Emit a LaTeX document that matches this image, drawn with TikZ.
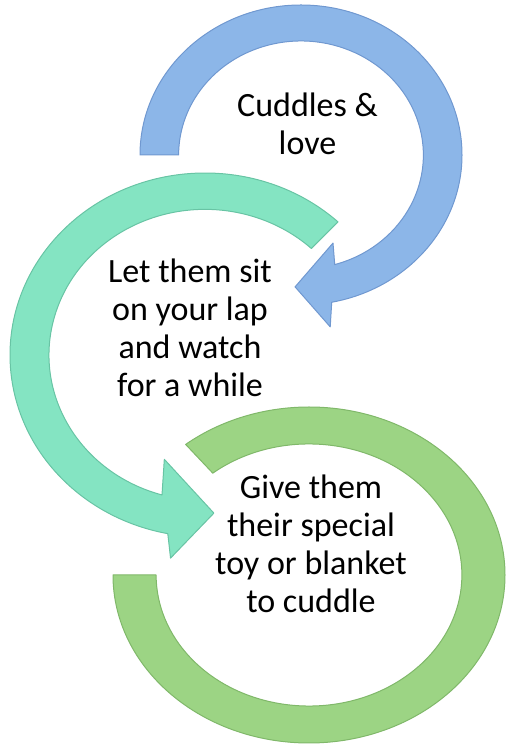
\documentclass[tikz,border=0pt]{standalone}
\usepackage{fontspec}
\setmainfont{Carlito}
\usepackage{xcolor}
\usepackage{tikz}
\usetikzlibrary{positioning,calc}

\definecolor{arcblue}{RGB}{140,182,232}
\definecolor{arcblueedge}{RGB}{112,152,208}
\definecolor{arcteal}{RGB}{132,228,194}
\definecolor{arctealedge}{RGB}{104,196,164}
\definecolor{arcgreen}{RGB}{156,212,132}
\definecolor{arcgreenedge}{RGB}{128,184,106}

\begin{document}
\begin{tikzpicture}[
  x=1pt, y=1pt,
  bluearc/.style={fill=arcblue, draw=arcblueedge, line width=1pt, line join=round},
  tealarc/.style={fill=arcteal, draw=arctealedge, line width=1pt, line join=round},
  greenarc/.style={fill=arcgreen, draw=arcgreenedge, line width=1pt, line join=round},
  lbl/.style={align=center, font=\fontsize{34}{38.3}\selectfont, inner sep=0pt}
]
  \useasboundingbox (0,0) rectangle (507,744);

  % bottom ring, no head
  \begin{scope}[shift={(309,169)}, xscale=196, yscale=168]
    \draw[greenarc] (180:1) arc[start angle=180, end angle=489, radius=1]
      -- (129:0.78) arc[start angle=489, end angle=180, radius=0.78] -- cycle;
  \end{scope}

  % middle ring, head at the bottom
  \begin{scope}[shift={(205,389)}, xscale=195, yscale=182]
    \draw[tealarc] (47:1) arc[start angle=47, end angle=259, radius=1]
      -- (261:1.13) -- (273:0.87) -- (250:0.61)
      -- (254:0.8) arc[start angle=254, end angle=47, radius=0.8] -- cycle;
  \end{scope}

  % top ring, head at the bottom
  \begin{scope}[shift={(301,589)}, xscale=161, yscale=150]
    \draw[bluearc] (180:1) arc[start angle=180, end angle=-79, radius=1]
      -- (-81:1.16) -- (-92.4:0.88) -- (-71.3:0.62)
      -- (-74:0.76) arc[start angle=-74, end angle=180, radius=0.76] -- cycle;
  \end{scope}

  \node[lbl, anchor=base] (love) at (307.5,589) {Cuddles \&\\love};
  \node[lbl, anchor=base] (lap) at (190,347) {Let them sit\\on your lap\\and watch\\for a while};
  \node[lbl, anchor=base] (toy) at (311,131) {Give them\\their special\\toy or blanket\\to cuddle};
\end{tikzpicture}
\end{document}
